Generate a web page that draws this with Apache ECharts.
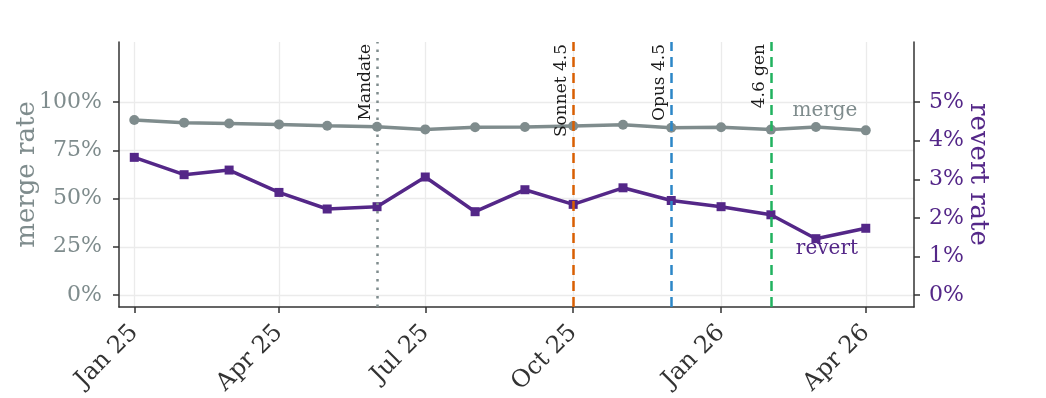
<!DOCTYPE html>
<html>
<head>
<meta charset="utf-8">
<script src="https://cdn.jsdelivr.net/npm/echarts@6/dist/echarts.min.js"></script>
<style>
  html, body { margin: 0; padding: 0; background: #fff; }
  #chart { width: 1046px; height: 398px; }
</style>
</head>
<body>
<div id="chart"></div>
<script>
// monthly points
const months = ['2025-01', '2025-02', '2025-03', '2025-04', '2025-05', '2025-06', '2025-07', '2025-08',
  '2025-09', '2025-10', '2025-11', '2025-12', '2026-01', '2026-02', '2026-03', '2026-04']
const mergeRate = [90.8, 89.4, 89.0, 88.5, 87.8, 87.3, 85.9, 87.0, 87.1, 87.7, 88.3, 86.8, 87.0, 85.8, 87.1, 85.4]
const revertRate = [3.57, 3.12, 3.24, 2.66, 2.23, 2.29, 3.06, 2.16, 2.73, 2.35, 2.78, 2.45, 2.29, 2.08, 1.46, 1.73]

const tickMonths = ['2025-01', '2025-04', '2025-07', '2025-10', '2026-01', '2026-04']
const tickLabels = ['Jan 25', 'Apr 25', 'Jul 25', 'Oct 25', 'Jan 26', 'Apr 26']
const mergeTicks = [0, 25, 50, 75, 100]
const revertTicks = [0, 1, 2, 3, 4, 5]

const eventNames = ['Mandate', 'Sonnet 4.5', 'Opus 4.5', '4.6 gen']
const eventMonths = ['2025-06', '2025-10', '2025-12', '2026-02']
const eventColors = ['#7f8c8d', '#d95f02', '#2c87c8', '#21b25f']
const eventTypes = [[2.5, 6], [10, 6], [10, 6], [10, 6]]

const labelMonth = '2026-03'

const FONT = 'DejaVu Serif'
const GREY = '#7f8c8d'
const PURPLE = '#542788'

// days since Jan 1 2025
const dayOf = s => (Date.UTC(+s.slice(0, 4), +s.slice(5, 7) - 1, 1) - Date.UTC(2025, 0, 1)) / 864e5
const tickDays = tickMonths.map(dayOf)

const chart = echarts.init(document.getElementById('chart'))

const axisLine = { show: true, onZero: false, lineStyle: { color: '#333', width: 1.5 } }
const gridLine = { show: true, lineStyle: { color: '#ebebeb', width: 1.3 } }

chart.setOption({
  animation: false,
  grid: { left: 119, right: 132, top: 42, bottom: 91, outerBoundsMode: 'none' },
  xAxis: {
    type: 'value',
    min: -9.5,
    max: 485,
    axisLine,
    axisTick: { show: true, length: 6, customValues: tickDays, lineStyle: { color: '#333', width: 1.5 } },
    axisLabel: {
      customValues: tickDays,
      rotate: 45,
      margin: 22,
      color: '#333',
      fontSize: 24,
      fontFamily: FONT,
      formatter: v => tickLabels[tickDays.indexOf(v)] || ''
    },
    splitLine: gridLine
  },
  yAxis: [{
    type: 'value',
    min: -6.25,
    max: 131.25,
    name: 'merge rate',
    nameLocation: 'middle',
    nameGap: 79,
    nameMoveOverlap: false,
    nameTextStyle: { color: GREY, fontSize: 26, fontFamily: FONT },
    axisLine,
    axisTick: { show: true, length: 6, customValues: mergeTicks, lineStyle: { color: '#333', width: 1.5 } },
    axisLabel: { customValues: mergeTicks, margin: 17, color: GREY, fontSize: 22, fontFamily: FONT, formatter: v => v + '%' },
    splitLine: gridLine
  }, {
    type: 'value',
    min: -0.3125,
    max: 6.5625,
    name: 'revert rate',
    nameLocation: 'middle',
    nameRotate: -90,
    nameGap: 51,
    nameMoveOverlap: false,
    nameTextStyle: { color: PURPLE, fontSize: 26, fontFamily: FONT },
    axisLine,
    axisTick: { show: true, length: 6, customValues: revertTicks, lineStyle: { color: '#333', width: 1.5 } },
    axisLabel: { customValues: revertTicks, margin: 15, color: PURPLE, fontSize: 22, fontFamily: FONT, formatter: v => v + '%' },
    splitLine: { show: false }
  }],
  series: [{
    // event markers
    type: 'line',
    z: 1,
    data: [],
    markLine: {
      silent: true,
      symbol: 'none',
      animation: false,
      data: eventNames.map((name, i) => ({
        xAxis: dayOf(eventMonths[i]),
        lineStyle: { color: eventColors[i], type: eventTypes[i], width: 2.5 },
        label: {
          show: true,
          formatter: name,
          position: 'insideEndTop',
          distance: [2, 3],
          color: '#1a1a1a',
          fontSize: 17,
          fontFamily: FONT
        }
      }))
    }
  }, {
    name: 'merge',
    type: 'line',
    z: 3,
    yAxisIndex: 0,
    color: GREY,
    symbol: 'circle',
    symbolSize: 10,
    lineStyle: { width: 3.5 },
    data: months.map((m, i) => {
      const item = { value: [dayOf(m), mergeRate[i]] }
      if (m === labelMonth) {
        item.label = { show: true, formatter: 'merge', position: 'top', offset: [9, 4], color: GREY, fontSize: 20, fontFamily: FONT }
      }
      return item
    })
  }, {
    name: 'revert',
    type: 'line',
    z: 3,
    yAxisIndex: 1,
    color: PURPLE,
    symbol: 'rect',
    symbolSize: 9,
    lineStyle: { width: 3.5 },
    data: months.map((m, i) => {
      const item = { value: [dayOf(m), revertRate[i]] }
      if (m === labelMonth) {
        item.label = { show: true, formatter: 'revert', position: 'bottom', offset: [11, -9], color: PURPLE, fontSize: 20, fontFamily: FONT }
      }
      return item
    })
  }]
})
</script>
</body>
</html>
